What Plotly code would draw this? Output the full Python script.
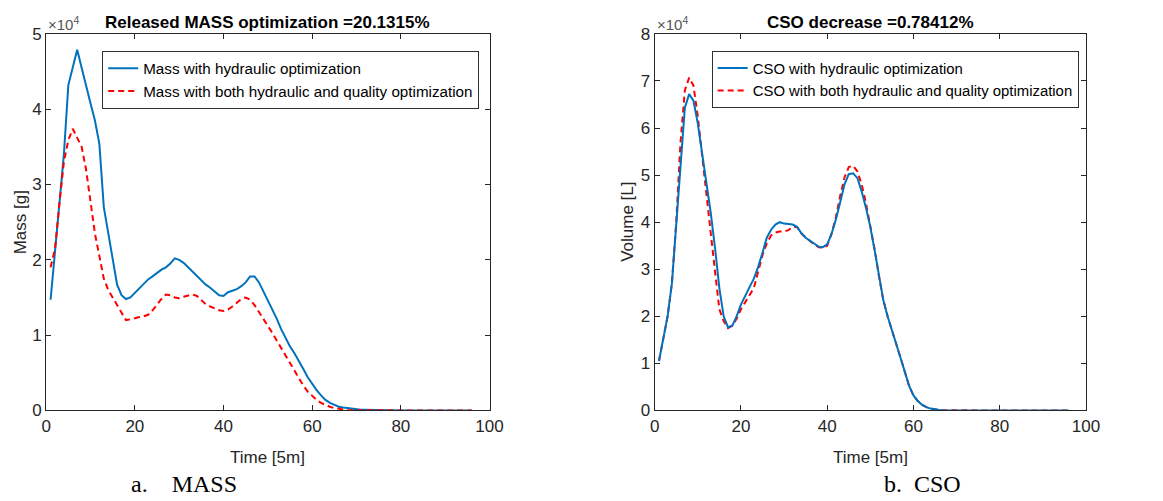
import plotly.graph_objects as go

# page / capture geometry (calibrated from previous renders)
OFF = 8                 # browser body margin
SX, AXO = 0.983, 5.0    # observed horizontal scale / offset of the capture
SY, AYO = 0.966, 8.3    # observed vertical scale / offset of the capture
FW, FH = 1172, 504

time_steps = list(range(1, 97))

# Mass [g] in units of 1e4
mass_hydraulic = [
    1.47, 2.15, 2.75, 3.40, 4.32, 4.55, 4.79, 4.55, 4.30, 4.08,
    3.85, 3.54, 2.70, 2.36, 2.00, 1.67, 1.53, 1.48, 1.50, 1.56,
    1.62, 1.68, 1.74, 1.78, 1.83, 1.87, 1.90, 1.95, 2.02, 2.00,
    1.96, 1.90, 1.84, 1.78, 1.72, 1.67, 1.63, 1.58, 1.53, 1.52,
    1.57, 1.59, 1.61, 1.65, 1.70, 1.78, 1.78, 1.70, 1.58, 1.47,
    1.36, 1.22, 1.08, 0.96, 0.85, 0.76, 0.66, 0.55, 0.44, 0.35,
    0.27, 0.20, 0.14, 0.10, 0.07, 0.05, 0.04, 0.03, 0.02, 0.015,
    0.010, 0.008, 0.006, 0.005, 0.004, 0.003, 0.002, 0.002, 0.001, 0.001,
    0.001, 0.0, 0.0, 0.0, 0.0, 0.0, 0.0, 0.0, 0.0, 0.0,
    0.0, 0.0, 0.0, 0.0, 0.0, 0.0,
]
mass_both = [
    1.90, 2.15, 2.75, 3.30, 3.59, 3.74, 3.62, 3.50, 3.20, 2.75,
    2.35, 2.05, 1.75, 1.60, 1.50, 1.40, 1.30, 1.20, 1.21, 1.23,
    1.24, 1.25, 1.27, 1.33, 1.41, 1.48, 1.54, 1.53, 1.50, 1.49,
    1.51, 1.53, 1.54, 1.52, 1.46, 1.41, 1.38, 1.35, 1.33, 1.32,
    1.34, 1.38, 1.43, 1.48, 1.50, 1.47, 1.40, 1.31, 1.22, 1.12,
    1.03, 0.93, 0.83, 0.73, 0.62, 0.52, 0.42, 0.33, 0.25, 0.19,
    0.14, 0.10, 0.07, 0.05, 0.03, 0.02, 0.01, 0.005, 0.004, 0.003,
    0.002, 0.001, 0.001, 0.0, 0.0, 0.0, 0.0, 0.0, 0.0, 0.0,
    0.0, 0.0, 0.0, 0.0, 0.0, 0.0, 0.0, 0.0, 0.0, 0.0,
    0.0, 0.0, 0.0, 0.0, 0.0, 0.0,
]

# CSO volume [L] in units of 1e4
cso_hydraulic = [
    1.05, 1.51, 2.00, 2.70, 3.90, 5.30, 6.43, 6.72, 6.58, 6.10,
    5.50, 4.90, 4.20, 3.45, 2.60, 2.00, 1.77, 1.80, 2.00, 2.25,
    2.45, 2.62, 2.80, 3.05, 3.35, 3.67, 3.84, 3.95, 4.00, 3.97,
    3.96, 3.95, 3.90, 3.77, 3.67, 3.60, 3.54, 3.48, 3.47, 3.53,
    3.75, 4.05, 4.42, 4.80, 5.02, 5.04, 4.94, 4.65, 4.30, 3.90,
    3.40, 2.85, 2.35, 2.00, 1.72, 1.42, 1.12, 0.82, 0.52, 0.32,
    0.20, 0.12, 0.07, 0.04, 0.02, 0.01, 0.006, 0.004, 0.003, 0.002,
    0.001, 0.001, 0.0, 0.0, 0.0, 0.0, 0.0, 0.0, 0.0, 0.0,
    0.0, 0.0, 0.0, 0.0, 0.0, 0.0, 0.0, 0.0, 0.0, 0.0,
    0.0, 0.0, 0.0, 0.0, 0.0, 0.0,
]
cso_both = [
    1.05, 1.50, 2.00, 2.70, 4.00, 5.70, 6.80, 7.07, 6.90, 6.25,
    5.40, 4.50, 3.70, 2.95, 2.15, 1.90, 1.75, 1.80, 1.95, 2.15,
    2.30, 2.45, 2.60, 2.95, 3.30, 3.55, 3.72, 3.78, 3.80, 3.80,
    3.83, 3.90, 3.90, 3.76, 3.67, 3.60, 3.53, 3.47, 3.45, 3.50,
    3.75, 4.10, 4.55, 4.95, 5.17, 5.20, 5.08, 4.80, 4.40, 3.95,
    3.42, 2.85, 2.35, 2.00, 1.72, 1.42, 1.12, 0.82, 0.52, 0.32,
    0.20, 0.12, 0.07, 0.04, 0.02, 0.01, 0.006, 0.004, 0.003, 0.002,
    0.001, 0.001, 0.0, 0.0, 0.0, 0.0, 0.0, 0.0, 0.0, 0.0,
    0.0, 0.0, 0.0, 0.0, 0.0, 0.0, 0.0, 0.0, 0.0, 0.0,
    0.0, 0.0, 0.0, 0.0, 0.0, 0.0,
]

x_ticks = [0, 20, 40, 60, 80, 100]
mass_ticks = [0, 1, 2, 3, 4, 5]
cso_ticks = [0, 1, 2, 3, 4, 5, 6, 7, 8]

titles = ["Released MASS optimization =20.1315%", "CSO decrease =0.78412%"]
ylabels = ["Mass [g]", "Volume [L]"]
xlabel = "Time [5m]"
captions = ["a.    MASS", "b.  CSO"]
legend_names = [
    ["Mass with hydraulic optimization", "Mass with both hydraulic and quality optimization"],
    ["CSO with hydraulic optimization", "CSO with both hydraulic and quality optimization"],
]

BLUE = "#0072BD"
RED = "#FF0000"
AX = "#262626"
FONT = "Liberation Sans, Arial, sans-serif"
SERIF = "Liberation Serif, Times New Roman, serif"

def px(P):
    return ((P - AXO) / SX - OFF) / FW

def py(P):
    return 1 - ((P - AYO) / SY - OFF) / FH

fig = go.Figure()

fig.add_trace(go.Scatter(x=time_steps, y=mass_hydraulic, mode="lines", name=legend_names[0][0],
                         line=dict(color=BLUE, width=2), xaxis="x", yaxis="y", legend="legend"))
fig.add_trace(go.Scatter(x=time_steps, y=mass_both, mode="lines", name=legend_names[0][1],
                         line=dict(color=RED, width=2, dash="6px,4px"), xaxis="x", yaxis="y", legend="legend"))
fig.add_trace(go.Scatter(x=time_steps, y=cso_both, mode="lines", name=legend_names[1][1],
                         line=dict(color=RED, width=2, dash="6px,4px"), xaxis="x2", yaxis="y2", legend="legend2"))
fig.add_trace(go.Scatter(x=time_steps, y=cso_hydraulic, mode="lines", name=legend_names[1][0],
                         line=dict(color=BLUE, width=2), xaxis="x2", yaxis="y2", legend="legend2"))

L0, L1 = 46, 489
R0, R1 = 654, 1085
T, B = 33, 411

axis_common = dict(showline=True, linecolor=AX, linewidth=1, mirror="ticks", ticks="inside",
                   ticklen=5, tickcolor=AX, showgrid=False, zeroline=False,
                   tickfont=dict(family=FONT, size=17, color=AX))

fig.update_layout(
    width=FW, height=FH,
    margin=dict(l=0, r=0, t=0, b=0),
    paper_bgcolor="white", plot_bgcolor="white",
    xaxis=dict(domain=[px(L0), px(L1)], range=[0, 100], tickvals=x_ticks, anchor="y", **axis_common),
    yaxis=dict(domain=[py(B), py(T)], range=[0, 5], tickvals=mass_ticks, anchor="x", **axis_common),
    xaxis2=dict(domain=[px(R0), px(R1)], range=[0, 100], tickvals=x_ticks, anchor="y2", **axis_common),
    yaxis2=dict(domain=[py(B), py(T)], range=[0, 8], tickvals=cso_ticks, anchor="x2", **axis_common),
    legend=dict(x=px(102), y=py(50), xanchor="left", yanchor="top", bgcolor="white",
                bordercolor="#303030", borderwidth=1, font=dict(family=FONT, size=15.2, color="black"),
                traceorder="normal", tracegroupgap=0),
    legend2=dict(x=px(711), y=py(50), xanchor="left", yanchor="top", bgcolor="white",
                 bordercolor="#303030", borderwidth=1, font=dict(family=FONT, size=14.9, color="black"),
                 traceorder="reversed", tracegroupgap=0),
    showlegend=True,
)

ann = []
for i, (a0, a1) in enumerate([(L0, L1), (R0, R1)]):
    cx = (a0 + a1) / 2
    ann.append(dict(text="<b>" + titles[i] + "</b>", x=px(cx), y=py(22), xref="paper", yref="paper",
                    showarrow=False, font=dict(family=FONT, size=17, color="black"),
                    xanchor="center", yanchor="middle"))
    ann.append(dict(text=xlabel, x=px(cx), y=py(458), xref="paper", yref="paper",
                    showarrow=False, font=dict(family=FONT, size=17, color=AX),
                    xanchor="center", yanchor="middle"))
    ann.append(dict(text="×10<sup>4</sup>", x=px(a0), y=py(T + 1), xref="paper", yref="paper",
                    showarrow=False, font=dict(family=FONT, size=15, color="#555555"),
                    xanchor="left", yanchor="bottom"))

ann.append(dict(text=ylabels[0], x=px(20), y=py((T + B) / 2), xref="paper", yref="paper",
                showarrow=False, textangle=-90, font=dict(family=FONT, size=17, color=AX),
                xanchor="center", yanchor="middle"))
ann.append(dict(text=ylabels[1], x=px(627), y=py((T + B) / 2), xref="paper", yref="paper",
                showarrow=False, textangle=-90, font=dict(family=FONT, size=17, color=AX),
                xanchor="center", yanchor="middle"))

ann.append(dict(text=captions[0], x=px(129), y=py(485), xref="paper", yref="paper",
                showarrow=False, font=dict(family=SERIF, size=24, color="black"),
                xanchor="left", yanchor="middle"))
ann.append(dict(text=captions[1], x=px(881), y=py(485), xref="paper", yref="paper",
                showarrow=False, font=dict(family=SERIF, size=24, color="black"),
                xanchor="left", yanchor="middle"))

fig.update_layout(annotations=ann)

fig.write_html("out.html")
